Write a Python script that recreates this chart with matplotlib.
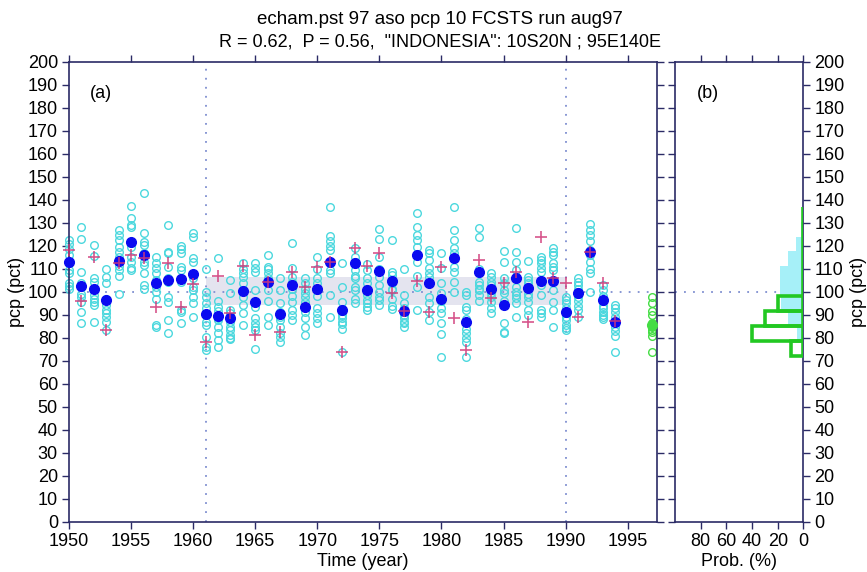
import matplotlib
matplotlib.use("Agg")
import matplotlib.pyplot as plt
import numpy as np

plt.rcParams['font.family'] = ['Liberation Sans', 'DejaVu Sans']

# ---- data ----
years = list(range(1950, 1995))

ens_mean = [112.8, 102.5, 101.4, 96.4, 113.3, 121.7, 115.9, 103.6, 105.0, 105.4,
            107.5, 90.1, 89.6, 88.4, 100.3, 95.7, 104.3, 90.3, 102.9, 93.5,
            101.0, 112.8, 92.0, 112.3, 100.7, 109.0, 104.6, 91.7, 115.9, 103.6,
            96.8, 114.5, 87.0, 108.7, 101.0, 94.2, 105.8, 101.7, 104.6, 104.6,
            91.3, 99.6, 117.4, 96.4, 86.7]

obs = [118.0, 96.1, 115.2, 83.3, 112.3, 115.9, 114.5, 93.5, 112.3, 93.5,
       103.3, 78.3, 106.8, 90.9, 111.2, 81.2, 104.3, 82.6, 108.7, 102.2,
       110.6, 113.0, 73.9, 118.8, 111.2, 116.7, 99.6, 91.7, 104.8, 91.3,
       110.6, 88.4, 74.6, 113.8, 97.1, 103.9, 108.7, 87.0, 123.6, 105.8,
       103.6, 89.1, 117.4, 103.9, 87.2]

members = [
    [122.5, 120.7, 118.4, 116.0, 113.0, 109.4, 108.0, 103.6, 102.5, 101.0],
    [128.0, 123.0, 108.7, 104.0, 102.0, 99.0, 97.8, 95.7, 91.3, 86.2],
    [120.4, 115.5, 105.8, 104.3, 101.0, 98.5, 97.0, 95.7, 94.2, 87.0],
    [110.0, 106.5, 103.6, 97.0, 94.2, 92.0, 90.6, 89.1, 87.0, 83.3],
    [126.8, 124.6, 122.5, 119.6, 117.4, 115.2, 111.0, 109.4, 107.0, 99.0],
    [137.2, 131.9, 129.0, 128.0, 121.0, 119.6, 115.2, 113.0, 110.1, 109.4],
    [142.8, 125.4, 121.7, 120.5, 116.7, 113.0, 111.6, 108.0, 102.9, 101.4],
    [115.2, 112.3, 110.1, 108.0, 105.0, 102.2, 100.0, 97.0, 85.5, 84.5],
    [129.0, 117.4, 116.7, 110.9, 105.8, 104.3, 97.8, 95.7, 87.7, 81.9],
    [119.9, 118.4, 116.7, 110.9, 109.4, 105.8, 104.3, 92.0, 91.0, 86.2],
    [125.4, 123.6, 114.5, 113.0, 105.8, 102.2, 100.7, 97.8, 94.9, 89.1],
    [109.7, 100.0, 97.8, 94.9, 92.8, 87.0, 85.5, 80.4, 76.1, 74.6],
    [114.5, 96.0, 93.5, 91.7, 88.7, 87.7, 84.8, 82.0, 79.0, 76.1],
    [105.0, 99.3, 92.0, 90.6, 87.0, 84.8, 83.3, 81.2, 80.0, 79.3],
    [112.3, 110.0, 108.0, 106.5, 103.6, 100.7, 97.8, 94.2, 90.6, 85.5],
    [112.3, 110.1, 108.7, 100.7, 93.5, 88.4, 86.2, 84.8, 83.3, 75.0],
    [115.9, 110.9, 109.7, 108.0, 106.0, 103.6, 100.7, 96.0, 89.1, 85.5],
    [105.8, 100.7, 95.0, 91.0, 89.1, 87.7, 84.8, 82.0, 80.4, 78.3],
    [121.0, 110.1, 106.5, 104.3, 101.0, 98.0, 95.7, 92.0, 90.0, 87.7],
    [105.8, 103.6, 101.4, 99.3, 97.8, 95.7, 91.0, 88.4, 84.8, 81.2],
    [115.2, 110.0, 106.0, 104.0, 100.7, 98.0, 92.8, 90.6, 88.4, 86.2],
    [136.7, 124.2, 122.2, 119.9, 118.1, 113.0, 109.4, 108.0, 98.6, 89.1],
    [112.6, 102.2, 95.7, 92.0, 89.9, 88.4, 87.0, 86.0, 84.0, 73.9],
    [118.8, 115.2, 113.0, 109.4, 107.0, 105.8, 102.2, 100.7, 97.0, 94.9],
    [112.0, 109.4, 105.8, 103.6, 101.0, 98.6, 96.4, 94.9, 93.5, 92.0],
    [127.2, 122.8, 115.2, 110.0, 106.5, 102.9, 100.0, 97.8, 96.4, 94.2],
    [122.5, 108.7, 107.2, 105.0, 104.0, 101.0, 100.7, 97.0, 93.8, 92.3],
    [109.9, 98.6, 95.0, 93.0, 91.7, 90.0, 88.4, 87.0, 86.2, 84.8],
    [134.1, 128.3, 124.6, 122.5, 119.6, 116.0, 113.0, 106.8, 102.0, 92.0],
    [118.1, 116.7, 113.8, 110.1, 108.0, 106.5, 97.8, 94.9, 91.3, 87.7],
    [117.0, 110.1, 104.0, 99.3, 96.0, 93.0, 90.6, 86.2, 81.4, 71.7],
    [136.7, 126.8, 122.5, 118.8, 116.7, 114.5, 110.9, 108.7, 104.3, 100.0],
    [100.0, 98.6, 93.5, 92.0, 88.0, 84.0, 81.9, 79.7, 78.3, 71.7],
    [127.5, 123.9, 110.0, 108.0, 104.3, 102.9, 101.4, 100.7, 98.6, 96.0],
    [108.0, 106.5, 104.3, 102.9, 101.0, 99.3, 97.8, 95.7, 93.0, 90.6],
    [117.7, 113.0, 106.0, 103.9, 100.7, 99.3, 96.0, 86.2, 82.6, 81.9],
    [127.8, 117.4, 113.0, 109.4, 102.2, 100.0, 98.6, 97.1, 94.9, 89.1],
    [113.3, 106.5, 105.0, 103.6, 101.0, 99.0, 97.8, 95.7, 92.0, 89.9],
    [115.2, 113.8, 112.3, 110.1, 108.7, 103.0, 98.6, 92.0, 90.6, 89.0],
    [118.8, 117.4, 115.9, 112.3, 110.9, 109.4, 100.7, 95.7, 92.0, 84.8],
    [97.8, 96.4, 94.9, 92.8, 91.0, 89.1, 87.7, 85.5, 84.1, 83.5],
    [105.8, 104.3, 102.9, 101.4, 100.0, 97.8, 96.0, 94.0, 92.0, 89.1],
    [129.4, 126.8, 124.6, 122.0, 118.0, 116.0, 113.0, 110.0, 108.0, 100.0],
    [102.9, 100.7, 98.0, 96.0, 94.0, 92.8, 91.3, 90.0, 89.1, 88.0],
    [94.2, 92.8, 91.3, 89.0, 87.0, 86.7, 84.5, 82.9, 80.7, 73.9],
]

fcst_year = 1997
fcst_members = [97.8, 94.9, 91.5, 89.9, 86.5, 84.8, 83.5, 82.6, 80.7, 73.9]
fcst_mean = 85.5

band_years = [1961, 1990]
band_lo, band_hi = 94.2, 106.4

hist_edges = [72, 78.5, 85, 91.5, 98, 104.5, 111, 117.5, 124, 130.5, 137]
clim_pct = [0, 5.3, 12, 17.5, 18.3, 18.3, 11.8, 5.8, 1.6, 0.8]
fcst_pct = [10, 40, 30, 20, 0, 0, 0, 0, 0, 0]

title1 = "echam.pst 97 aso pcp 10 FCSTS run aug97"
title2 = 'R = 0.62,  P = 0.56,  "INDONESIA": 10S20N ; 95E140E'

# ---- plot ----
navy = '#2b2b66'
dotc = '#7f8fd0'
fs = 13

fig = plt.figure(figsize=(8.67, 5.72), dpi=100)
ax = fig.add_axes([0.0796, 0.088, 0.678, 0.804])
axb = fig.add_axes([0.7785, 0.088, 0.1482, 0.804])

ax.fill_between(band_years, band_lo, band_hi, color='#e4e4ef', lw=0, zorder=1)
ax.axhline(100, color=dotc, ls=(0, (1, 4)), lw=1.3, zorder=1.5)
for yr in band_years:
    ax.axvline(yr, color=dotc, ls=(0, (1, 4)), lw=1.3, zorder=1.5)

mx = np.repeat(years, [len(m) for m in members])
my = np.concatenate(members)
ax.plot(mx, my, 'o', ms=5.5, mfc='none', mec='#4cd8de', mew=1.0, zorder=2, clip_on=False)
ax.plot(years, ens_mean, 'o', ms=7, color='#0a0af0', zorder=3, clip_on=False)
ax.plot(years, obs, '+', ms=9, mew=1.2, color='#d03878', alpha=0.85, zorder=4, clip_on=False)

ax.plot([fcst_year] * len(fcst_members), fcst_members, 'o', ms=5.5, mfc='none',
        mec='#44dd44', mew=1.0, zorder=2, clip_on=False)
ax.plot([fcst_year], [fcst_mean], 'o', ms=7, color='#44dd44', zorder=3, clip_on=False)

ax.set_xlim(1950, 1997.35)
ax.set_ylim(0, 200)
ax.set_xticks(range(1950, 1996, 5))
ax.set_yticks(range(0, 201, 10))
ax.tick_params(direction='out', length=5, width=1, color=navy, labelsize=fs,
               top=True, right=True, labelright=False, pad=3)
ax.set_xlabel('Time (year)', fontsize=fs, labelpad=2)
ax.set_ylabel('pcp (pct)', fontsize=fs, labelpad=2)
ax.text(0.035, 0.93, '(a)', transform=ax.transAxes, fontsize=fs, va='center')

# panel b
edges = np.array(hist_edges)
centers = (edges[:-1] + edges[1:]) / 2
heights = np.diff(edges)
axb.axhline(100, color=dotc, ls=(0, (1, 4)), lw=1.3, zorder=1)
axb.stairs(clim_pct, hist_edges, orientation='horizontal', fill=True,
           color='#a6f0f8', zorder=2)
axb.barh(centers, fcst_pct, height=heights, fill=False, edgecolor='#22c822',
         lw=2.6, zorder=3)
axb.set_xlim(100, 0)
axb.set_ylim(0, 200)
axb.set_xticks([80, 60, 40, 20, 0])
axb.set_yticks(range(0, 201, 10))
axb.tick_params(direction='out', length=5, width=1, color=navy, labelsize=fs,
                top=True, left=True, right=True, labelleft=False, labelright=True, pad=3)
axb.set_xlabel('Prob. (%)', fontsize=fs, labelpad=2)
axb.yaxis.set_label_position('right')
axb.set_ylabel('pcp (pct)', fontsize=fs, labelpad=4)
axb.text(0.17, 0.93, '(b)', transform=axb.transAxes, fontsize=fs, va='center')

for a in (ax, axb):
    for s in a.spines.values():
        s.set_color(navy)
        s.set_linewidth(1.2)

fig.text(0.508, 0.966, title1, ha='center', va='center', fontsize=fs + 0.5)
fig.text(0.508, 0.927, title2, ha='center', va='center', fontsize=fs)

fig.savefig('out.png', dpi=100)
